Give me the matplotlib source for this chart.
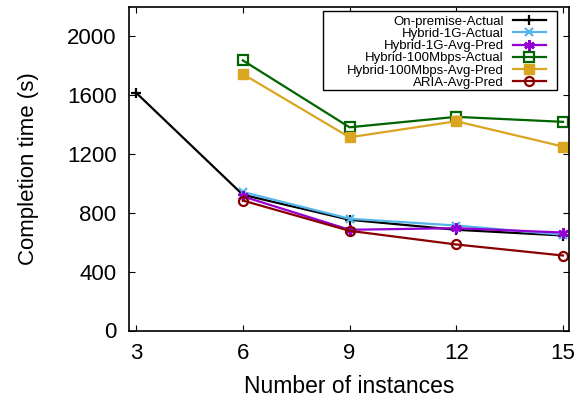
import matplotlib
matplotlib.use("Agg")
import matplotlib.pyplot as plt
from matplotlib.patches import Rectangle

plt.rcParams["font.family"] = ["Liberation Sans", "DejaVu Sans"]

# data
x_onprem = [3, 6, 9, 12, 15]
onprem_actual = [1617, 923, 753, 685, 646]

x_hybrid = [6, 9, 12, 15]
hybrid_1g_actual = [942, 760, 714, 651]
hybrid_1g_pred = [912, 685, 696, 666]
hybrid_100m_actual = [1837, 1382, 1453, 1419]
hybrid_100m_pred = [1744, 1314, 1423, 1251]
aria_pred = [884, 678, 585, 510]

x_ticks = [3, 6, 9, 12, 15]
y_ticks = [0, 400, 800, 1200, 1600, 2000]

fig = plt.figure(figsize=(5.87, 4.0), dpi=100)
ax = fig.add_axes([129 / 587, 1 - 330.5 / 400, (569 - 129) / 587, (330.5 - 7) / 400])

lw = 1.6
ax.plot(x_onprem, onprem_actual, color="black", lw=lw, marker="+", ms=7, mew=1.6,
        label="On-premise-Actual")
ax.plot(x_hybrid, hybrid_1g_actual, color="#56b4e9", lw=lw, marker="x", ms=6, mew=1.6,
        label="Hybrid-1G-Actual")
ax.plot(x_hybrid, hybrid_1g_pred, color="#9400d3", lw=lw, marker=(6, 2, 0), ms=7.5, mew=1.8,
        label="Hybrid-1G-Avg-Pred")
ax.plot(x_hybrid, hybrid_100m_actual, color="#006400", lw=lw, marker="s", ms=6.5, mew=1.6,
        mfc="none", label="Hybrid-100Mbps-Actual")
ax.plot(x_hybrid, hybrid_100m_pred, color="#daa520", lw=lw, marker="s", ms=6.5,
        label="Hybrid-100Mbps-Avg-Pred")
ax.plot(x_hybrid, aria_pred, color="#8b0000", lw=lw, marker="o", ms=6.5, mew=1.6,
        mfc="none", label="ARIA-Avg-Pred")

ax.set_xlim(2.8, 15.17)
ax.set_ylim(0, 2200)
ax.set_xticks(x_ticks)
ax.set_yticks(y_ticks)
ax.tick_params(direction="in", top=True, right=True, length=4, width=0.8,
               labelsize=16, pad=9)
for s in ax.spines.values():
    s.set_linewidth(1.2)

ax.set_xlabel("Number of instances", fontsize=16.5, labelpad=8)
ax.set_ylabel("Completion time (s)", fontsize=16, labelpad=20)

# gnuplot-style key: wide box, right-aligned labels, samples on the right
ax.add_patch(Rectangle((0.441, 0.743), 0.532, 0.245, transform=ax.transAxes,
                       fill=True, facecolor="white", edgecolor="black", lw=1.0, zorder=4))
leg = ax.legend(loc="upper right", bbox_to_anchor=(0.958, 0.988), markerfirst=False,
                fontsize=9.5, frameon=False, borderpad=0.25, labelspacing=0.0,
                handlelength=2.5, handletextpad=0.7, borderaxespad=0.1)
leg.set_zorder(5)
for t in leg.get_texts():
    t.set_ha("right")
leg._legend_box.align = "right"

fig.savefig("out.png", dpi=100)
